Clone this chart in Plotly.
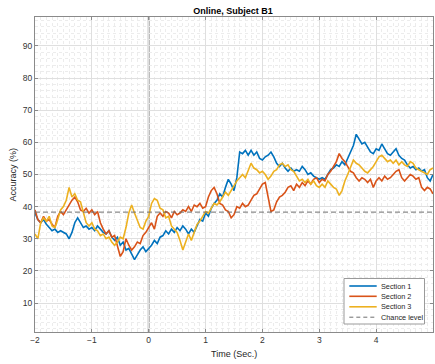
import numpy as np
import plotly.graph_objects as go

# ---- data -------------------------------------------------------------
time_s = np.round(np.linspace(-2.0, 5.0, 141), 2)   # 0.05 s sampling grid

section1 = [
    38, 36, 35, 36, 34.5, 33.5, 32.5, 33, 32, 32.5, 32, 31.5, 30, 32, 35, 36.5, 35, 33.5, 34, 33,
    33.5, 32.5, 34, 33, 32, 31.5, 32.5, 30.5, 29.5, 30.5, 28, 29, 26.5, 27, 25, 23.5, 25, 26.5, 27.5, 26,
    27, 28, 29.5, 28.5, 30.5, 31, 32.5, 31.5, 33, 32, 33.5, 32.5, 34, 33, 31.5, 33, 32, 34, 36, 35.5,
    38, 37, 39.5, 41, 42, 44, 43, 46, 48.5, 47, 45, 49, 57, 56.5, 57.5, 56, 57.5, 56, 57, 55,
    54.5, 55.5, 56, 57, 55.5, 53.5, 52.5, 53.5, 52, 51, 52, 51, 51.5, 51, 52.5, 51.5, 50, 50.5, 49.5, 49,
    48.5, 49, 48.5, 50, 51.5, 52, 53, 52.5, 54, 53, 55, 57, 59, 62.5, 61, 59.5, 60, 58.5, 57, 56.5,
    58, 57.5, 59.5, 58, 56.5, 56, 57, 58, 56, 55, 54.5, 53, 52, 52.5, 51.5, 52, 51, 51.5, 49, 48,
    50,
]

section2 = [
    39, 36, 35, 37, 35.5, 36, 34.5, 33.5, 37, 38.5, 37.5, 39, 40.5, 42, 43, 41.5, 39, 38.5, 39.5, 38,
    39, 37.5, 38.5, 35, 33, 31.5, 32.5, 30.5, 31, 28, 24.5, 26, 30, 28, 26.5, 27.5, 29, 28.5, 31, 32,
    33.5, 35, 33, 37, 38, 37, 38.5, 38, 36.5, 38.5, 37.5, 38, 39, 38.5, 40, 38.5, 40.5, 40, 41, 39.5,
    40, 43, 45, 46, 44, 41, 40.5, 39, 38.5, 36.5, 37.5, 40, 39.5, 41, 40, 40.5, 42, 43.5, 44, 45.5,
    47, 47.5, 43, 38.5, 39, 41.5, 43, 43.5, 44.5, 46, 46.5, 45, 47, 46, 47.5, 46.5, 48, 47, 48.5, 49,
    47.5, 48.5, 48, 50, 51, 52.5, 54, 56.5, 55, 54, 52.5, 51, 50.5, 49, 48, 49, 48.5, 47.5, 48.5, 46,
    48, 49, 48, 49.5, 48.5, 49, 50, 51, 51.5, 49, 48, 49, 50, 49.5, 48.5, 49, 46, 45, 46, 45.5,
    44,
]

section3 = [
    31.5, 30, 35, 36.5, 35.5, 37, 34, 33.5, 36, 39, 40, 42, 46, 43, 44, 42, 41.5, 38, 35, 34,
    35, 33, 32.5, 31, 31.5, 30, 30.5, 29, 28, 29, 30.5, 30, 33.5, 38, 40.5, 38, 36, 33.5, 33, 35.5,
    37, 41, 42.5, 42, 39.5, 39, 36.5, 37, 34, 33, 32, 29.5, 26.5, 29, 31.5, 29.5, 32, 34.5, 35.5, 37,
    38.5, 38, 39.5, 41, 40.5, 41.5, 43, 44.5, 43.5, 45, 46.5, 48, 49, 50, 49, 51.5, 53.5, 52, 51.5, 50.5,
    51, 50, 48.5, 49.5, 51, 51.5, 53, 53.5, 52.5, 53, 51.5, 51, 49.5, 48, 48.5, 47.5, 48.5, 47, 48, 46.5,
    46, 47, 46, 48, 47, 46, 45.5, 43.5, 45, 48, 50, 52, 54.5, 53.5, 53, 52, 51, 50.5, 51.5, 52.5,
    54, 55.5, 56, 55, 54, 54.5, 53.5, 54.5, 53, 54, 53, 52.5, 54, 53.5, 52, 51.5, 51, 50.5, 50, 51.5,
    52,
]

chance_level = 38.3
series_names = ["Section 1", "Section 2", "Section 3"]
series_colors = ["#0072BD", "#D95319", "#EDB120"]
x_ticks = [-2, -1, 0, 1, 2, 3, 4, 5]
y_ticks = [10, 20, 30, 40, 50, 60, 70, 80, 90]

# ---- figure geometry --------------------------------------------------
W, H = 435, 364
ML, MR, MT, MB = 35, 2, 17, 32
PW, PH = W - ML - MR, H - MT - MB


def fx(px):
    """pixel column -> paper x"""
    return (px - ML) / PW


def fy(py):
    """pixel row (from top) -> paper y"""
    return (H - MB - py) / PH


FONT = "Liberation Sans, Arial, Helvetica, sans-serif"
TXT = "#262626"

fig = go.Figure()

for name, vals, col in zip(series_names, [section1, section2, section3], series_colors):
    assert len(vals) == len(time_s)
    fig.add_trace(go.Scatter(x=time_s, y=vals, mode="lines", name=name,
                             line=dict(color=col, width=1.6), showlegend=False))

fig.add_trace(go.Scatter(x=[time_s[0], time_s[-1]], y=[chance_level, chance_level],
                         mode="lines", name="Chance level",
                         line=dict(color="#6e6e6e", width=1, dash="5px,3px"),
                         showlegend=False))

# stimulus onset marker
fig.add_shape(type="line", xref="x", yref="paper", x0=0, x1=0, y0=0, y1=1,
              line=dict(color="#a0a0a0", width=2), layer="below")

axis_common = dict(
    showline=True, linecolor="#8a8a8a", linewidth=1, mirror="ticks",
    ticks="inside", ticklen=3, tickcolor="#8a8a8a",
    showgrid=True, gridcolor="#dfdfdf", gridwidth=1,
    zeroline=False,
    tickfont=dict(family=FONT, size=8.5, color="#333333"),
)

fig.update_xaxes(range=[-2, 5], tickvals=x_ticks,
                 minor=dict(dtick=0.1, showgrid=True, gridcolor="#ececec",
                            griddash="dot", ticks=""),
                 **axis_common)
fig.update_yaxes(range=[1, 99], tickvals=y_ticks,
                 minor=dict(dtick=2, showgrid=True, gridcolor="#ececec",
                            griddash="dot", ticks=""),
                 **axis_common)

# legend box drawn in paper space
box = dict(x0=344, x1=424.5, y0=278.5, y1=324)
fig.add_shape(type="rect", xref="paper", yref="paper",
              x0=fx(box["x0"]), x1=fx(box["x1"]), y0=fy(box["y1"]), y1=fy(box["y0"]),
              line=dict(color="#9a9a9a", width=1), fillcolor="white", layer="above")

legend_rows = [286, 296.3, 306.8, 317.2]
legend_labels = series_names + ["Chance level"]
legend_styles = [dict(color=c, width=1.6) for c in series_colors] + \
                [dict(color="#6e6e6e", width=1, dash="4px,3px")]
annotations = []
for ry, lab, sty in zip(legend_rows, legend_labels, legend_styles):
    fig.add_shape(type="line", xref="paper", yref="paper",
                  x0=fx(349.3), x1=fx(376.7), y0=fy(ry), y1=fy(ry),
                  line=sty, layer="above")
    annotations.append(dict(x=fx(378.5), y=fy(ry), xref="paper", yref="paper",
                            text=lab, showarrow=False, xanchor="left", yanchor="middle",
                            font=dict(family=FONT, size=7.3, color=TXT)))

annotations.append(dict(x=fx(234), y=fy(353.5), xref="paper", yref="paper",
                        text="Time (Sec.)", showarrow=False, xanchor="center",
                        yanchor="middle", font=dict(family=FONT, size=9, color=TXT)))
annotations.append(dict(x=fx(12), y=fy(174.5), xref="paper", yref="paper",
                        text="Accuracy (%)", showarrow=False, textangle=-90,
                        xanchor="center", yanchor="middle",
                        font=dict(family=FONT, size=9, color=TXT)))

fig.update_layout(
    width=W, height=H,
    margin=dict(l=ML, r=MR, t=MT, b=MB, pad=0),
    paper_bgcolor="white", plot_bgcolor="white",
    title=dict(text="<b>Online, Subject B1</b>", x=fx(233), xref="paper",
               xanchor="center", y=1 - 10.7 / H, yanchor="middle",
               font=dict(family=FONT, size=9, color="#000000")),
    annotations=annotations,
    showlegend=False,
)

fig.write_html("out.html")
